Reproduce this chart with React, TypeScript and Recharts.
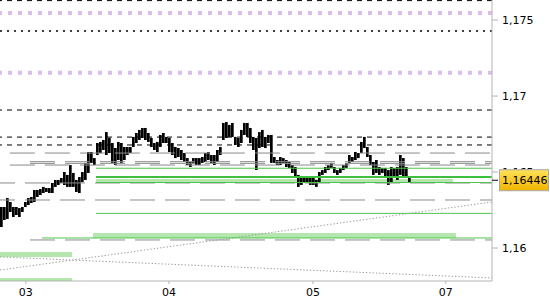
import React from 'react';
import { ComposedChart, Bar, XAxis, YAxis, ReferenceLine, ReferenceArea } from 'recharts';

// 30-min bars, high / low
const highs = [
  1.1627, 1.1627, 1.16329, 1.16303, 1.1627, 1.1627, 1.16263, 1.1627, 1.16303, 1.16329,
  1.16336, 1.16382, 1.16382, 1.16388, 1.16402, 1.16395, 1.16395, 1.16428, 1.16448, 1.16448,
  1.16461, 1.165, 1.16481, 1.16546, 1.16494, 1.16448, 1.16467, 1.165, 1.1656, 1.16632,
  1.16632, 1.16592, 1.16691, 1.16698, 1.16711, 1.16763, 1.16724, 1.16691, 1.16658, 1.16698,
  1.16691, 1.16665, 1.16665, 1.16665, 1.16731, 1.16757, 1.16777, 1.1679, 1.1679, 1.16757,
  1.16724, 1.16691, 1.16698, 1.16744, 1.16757, 1.16731, 1.16724, 1.16691, 1.16665, 1.16658,
  1.16645, 1.16625, 1.16592, 1.16566, 1.16592, 1.16592, 1.16592, 1.16599, 1.16625, 1.16632,
  1.16612, 1.16612, 1.16645, 1.16665, 1.16823, 1.16829, 1.1681, 1.16823, 1.16731, 1.16724,
  1.16777, 1.16823, 1.16823, 1.1679, 1.16731, 1.16724, 1.16763, 1.16777, 1.16731, 1.16744,
  1.16744, 1.16599, 1.16579, 1.16599, 1.16592, 1.16579, 1.16566, 1.16546, 1.16533, 1.16481,
  1.16467, 1.16467, 1.16467, 1.16467, 1.16467, 1.16448, 1.165, 1.16513, 1.16533, 1.16546,
  1.1656, 1.16533, 1.16513, 1.16527, 1.16546, 1.1656, 1.16612, 1.16599, 1.16632, 1.16625,
  1.16698, 1.16731, 1.16665, 1.16612, 1.16566, 1.16579, 1.16533, 1.16527, 1.16527, 1.16513,
  1.16533, 1.16527, 1.16533, 1.16612, 1.16592, 1.16533, 1.16467,
];
const lows = [
  1.16138, 1.16184, 1.16191, 1.16237, 1.16204, 1.16217, 1.16204, 1.16237, 1.1627, 1.16283,
  1.16296, 1.16303, 1.16336, 1.16349, 1.16362, 1.16369, 1.16362, 1.16362, 1.16402, 1.16415,
  1.16428, 1.16415, 1.16402, 1.16402, 1.16402, 1.16369, 1.16362, 1.16434, 1.16448, 1.16494,
  1.1656, 1.16546, 1.16612, 1.16625, 1.16645, 1.16612, 1.16625, 1.1656, 1.16546, 1.16579,
  1.1656, 1.16579, 1.16612, 1.16625, 1.16665, 1.16691, 1.16711, 1.16724, 1.16711, 1.16698,
  1.16665, 1.16645, 1.16632, 1.16665, 1.16691, 1.16691, 1.16632, 1.16612, 1.16592, 1.16599,
  1.16579, 1.16566, 1.16546, 1.16533, 1.1656, 1.16546, 1.16546, 1.1656, 1.16566, 1.16579,
  1.1656, 1.16546, 1.16566, 1.16612, 1.16711, 1.16724, 1.16731, 1.16731, 1.16678, 1.16665,
  1.16691, 1.16744, 1.16731, 1.16691, 1.16645, 1.16513, 1.16658, 1.16665, 1.16658, 1.16691,
  1.1656, 1.1656, 1.16546, 1.16546, 1.1656, 1.16533, 1.16527, 1.16494, 1.16467, 1.16402,
  1.16415, 1.16434, 1.16434, 1.16415, 1.16415, 1.16402, 1.16434, 1.16481, 1.16494, 1.16513,
  1.16527, 1.16494, 1.16481, 1.16494, 1.16513, 1.16527, 1.1656, 1.16566, 1.16579, 1.16592,
  1.16625, 1.16658, 1.16599, 1.16546, 1.16481, 1.16494, 1.16481, 1.16494, 1.16467, 1.16415,
  1.16434, 1.16467, 1.16448, 1.16481, 1.16467, 1.16467, 1.16434,
];

const lastPrice = 1.16446;

const xTicks = [8.6, 56.3, 104.3, 148.6];
const xLabels = ['03', '04', '05', '07'];
const yTicks = [1.16, 1.165, 1.17, 1.175];

// horizontal levels
const blackDashed = [1.17628, 1.16908, 1.1673, 1.16678];
const blackDotted = [1.17428];
const lavenderDotted = [1.17546, 1.17153];
const grayLevels = [1.16625, 1.16568, 1.16557, 1.16546, 1.16428, 1.16316, 1.16053];
const grayStarts = [3.3, 10, 10, 3.3, -3.3, -3.3, 10];
const greenLevels = [1.16525, 1.16431, 1.16228, 1.16066];
const greenStarts = [32, 32, 32, 14];
const greenThick = 1.16467;
// zones: [from, to, top, bottom]
const zones = [
  [32, 151, 1.16454, 1.16428],
  [31, 152, 1.16099, 1.16066],
  [0, 24, 1.15974, 1.15941],
  [0, 24, 1.15803, 1.15783],
];
// trend lines: [x1, y1, x2, y2]
const trends = [
  [0, 1.15941, 164, 1.15803],
  [0, 1.15855, 164, 1.16303],
];

const data = highs.map((h, i) => ({ x: i + 0.5, range: [lows[i], h] }));

const X_MAX = 164;

const PriceTag = (props: any) => {
  const { x, y, width } = props.viewBox;
  const right = x + width;
  return (
    <g>
      <line x1={right} x2={right + 6} y1={y} y2={y} stroke="#000" />
      <rect x={right + 7.5} y={y - 10.5} width={49} height={21} fill="url(#tagFill)" stroke="#a8a8a8" />
      <text x={right + 10} y={y} dy="0.36em" fontSize={11} fill="#000" fontFamily="DejaVu Sans">
        {String(lastPrice).replace('.', ',')}
      </text>
    </g>
  );
};

export default function App() {
  return (
    <div style={{ position: 'absolute', left: 0, top: 0, background: '#fff' }}>
      <ComposedChart
        width={550}
        height={300}
        data={data}
        margin={{ top: 0, right: 0, bottom: 0, left: 0 }}
        style={{ fontFamily: 'DejaVu Sans' }}
      >
        <defs>
          <linearGradient id="tagFill" x1="0" y1="0" x2="0" y2="1">
            <stop offset="0%" stopColor="#ffe25a" />
            <stop offset="100%" stopColor="#f0b400" />
          </linearGradient>
        </defs>
        <XAxis
          dataKey="x"
          type="number"
          domain={[0, X_MAX]}
          ticks={xTicks}
          interval={0}
          allowDataOverflow
          tickFormatter={(v, i) => xLabels[i]}
          height={19}
          stroke="#b4b4b4"
          tickSize={3}
          tickMargin={4}
          tick={{ fill: '#000', fontSize: 11 }}
        />
        <YAxis
          orientation="right"
          type="number"
          domain={[1.15783, 1.17632]}
          ticks={yTicks}
          interval={0}
          allowDataOverflow
          width={58}
          stroke="#b4b4b4"
          tickSize={6}
          tickMargin={4}
          tick={{ fill: '#000', fontSize: 11 }}
          tickFormatter={(v) => String(v).replace('.', ',')}
        />

        {zones.map((z, i) => (
          <ReferenceArea key={'z' + i} x1={z[0]} x2={z[1]} y1={z[2]} y2={z[3]} fill="#b4e6ae" fillOpacity={1} stroke="none" />
        ))}
        {lavenderDotted.map((v, i) => (
          <ReferenceLine key={'l' + i} y={v} stroke="#dbbcef" strokeWidth={4} strokeDasharray="4 6" />
        ))}
        {blackDotted.map((v, i) => (
          <ReferenceLine key={'d' + i} y={v} stroke="#000" strokeWidth={1.5} strokeDasharray="2 5" />
        ))}
        {blackDashed.map((v, i) => (
          <ReferenceLine key={'b' + i} y={v} stroke="#000" strokeDasharray="5 5" />
        ))}
        {grayLevels.map((v, i) => (
          <ReferenceLine
            key={'g' + i}
            segment={[{ x: Math.max(grayStarts[i], 0), y: v }, { x: X_MAX, y: v }]}
            stroke="#8a8a8a"
            strokeDasharray="25 10"
            strokeDashoffset={grayStarts[i] < 0 ? 10 : 0}
          />
        ))}
        {trends.map((t, i) => (
          <ReferenceLine
            key={'t' + i}
            segment={[{ x: t[0], y: t[1] }, { x: t[2], y: t[3] }]}
            stroke="#999"
            strokeDasharray="1.3 2"
          />
        ))}
        {greenLevels.map((v, i) => (
          <ReferenceLine key={'gr' + i} segment={[{ x: greenStarts[i], y: v }, { x: X_MAX, y: v }]} stroke="#4cc64c" />
        ))}
        <ReferenceLine segment={[{ x: 32, y: greenThick }, { x: X_MAX, y: greenThick }]} stroke="#3fbf3f" strokeWidth={2} />

        <Bar dataKey="range" barSize={3} fill="#000" isAnimationActive={false} />

        <ReferenceLine y={lastPrice} stroke="none" zIndex={3000} label={<PriceTag />} />
      </ComposedChart>
    </div>
  );
}
